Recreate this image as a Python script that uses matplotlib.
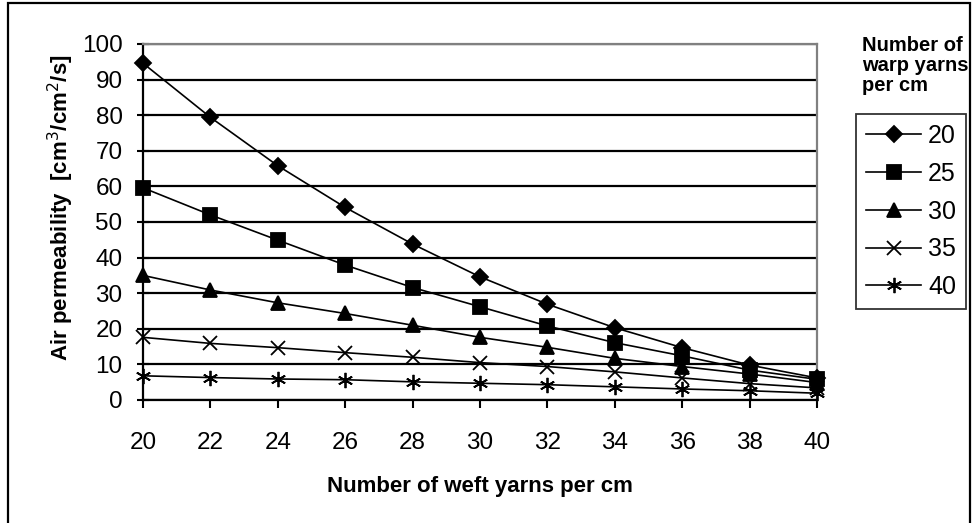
import matplotlib
matplotlib.use('Agg')
from matplotlib import pyplot as plt
from matplotlib.patches import Rectangle

plt.rcParams['font.family'] = ['Liberation Sans', 'DejaVu Sans']

# weft yarns per cm (x axis)
weft = [20, 22, 24, 26, 28, 30, 32, 34, 36, 38, 40]

# air permeability for each warp density
warp_20 = [94.6, 79.4, 65.8, 54.1, 43.8, 34.6, 26.9, 20.3, 14.7, 9.8, 6.2]
warp_25 = [59.6, 52.0, 44.9, 37.9, 31.6, 26.2, 20.8, 16.1, 12.4, 8.4, 5.8]
warp_30 = [35.0, 30.9, 27.3, 24.3, 21.0, 17.6, 14.8, 11.7, 9.4, 7.3, 4.9]
warp_35 = [17.6, 15.9, 14.7, 13.3, 12.0, 10.5, 9.4, 7.9, 6.2, 4.6, 3.4]
warp_40 = [6.8, 6.3, 5.9, 5.7, 5.1, 4.7, 4.3, 3.7, 3.1, 2.6, 1.9]

labels = ['20', '25', '30', '35', '40']
series = [warp_20, warp_25, warp_30, warp_35, warp_40]
markers = ['D', 's', '^', 'x', (6, 2, 0)]
msizes = [8, 10, 9.5, 10.5, 11]

W, H = 972, 523
fig = plt.figure(figsize=(W / 100, H / 100), dpi=100)
ax = fig.add_axes([143 / W, 1 - 400 / H, (817 - 143) / W, (400 - 44) / H])

for ys, lab, m, ms in zip(series, labels, markers, msizes):
    ax.plot(weft, ys, color='black', lw=1.2, marker=m, ms=ms,
            mec='black', mfc='black', mew=1.3, label=lab, clip_on=False, zorder=3)

ax.set_xlim(20, 40)
ax.set_ylim(0, 100)
ax.set_xticks(range(20, 41, 2))
ax.set_yticks(range(0, 101, 10))
ax.yaxis.grid(True, color='black', lw=1.6)
ax.set_axisbelow(True)

for side in ['top', 'right']:
    ax.spines[side].set_color('#808080')
    ax.spines[side].set_linewidth(1.6)
for side in ['left', 'bottom']:
    ax.spines[side].set_color('black')
    ax.spines[side].set_linewidth(1.6)

ax.tick_params(axis='y', direction='inout', length=8.5, width=1.5, labelsize=17.5, pad=10.5)
ax.tick_params(axis='x', direction='out', length=6, width=1.5, labelsize=17.5, pad=17)

ax.set_xlabel('Number of weft yarns per cm', fontsize=16, fontweight='bold', labelpad=16)
ax.set_ylabel('Air permeability  [cm$^3$/cm$^2$/s]', fontsize=16, fontweight='bold')
ax.yaxis.set_label_coords(-0.100, 0.54)

fig.text(862 / W, 1 - 36 / H, 'Number of\nwarp yarns\nper cm', fontsize=14.5,
         fontweight='bold', va='top', ha='left', linespacing=1.05)

leg = fig.legend(loc='upper left', bbox_to_anchor=(856 / W, 1 - 114 / H),
                 frameon=True, fancybox=False, edgecolor='black', fontsize=18,
                 handlelength=2.2, handletextpad=0.28, labelspacing=0.55,
                 borderpad=0.4, borderaxespad=0)
leg.get_frame().set_linewidth(1.3)

# outer chart border
fig.add_artist(Rectangle((8 / W, -0.05), (970 - 8) / W, 1.05 - 3 / H,
                         transform=fig.transFigure, fill=False,
                         edgecolor='black', lw=1.6))

fig.savefig('out.png', dpi=100)
